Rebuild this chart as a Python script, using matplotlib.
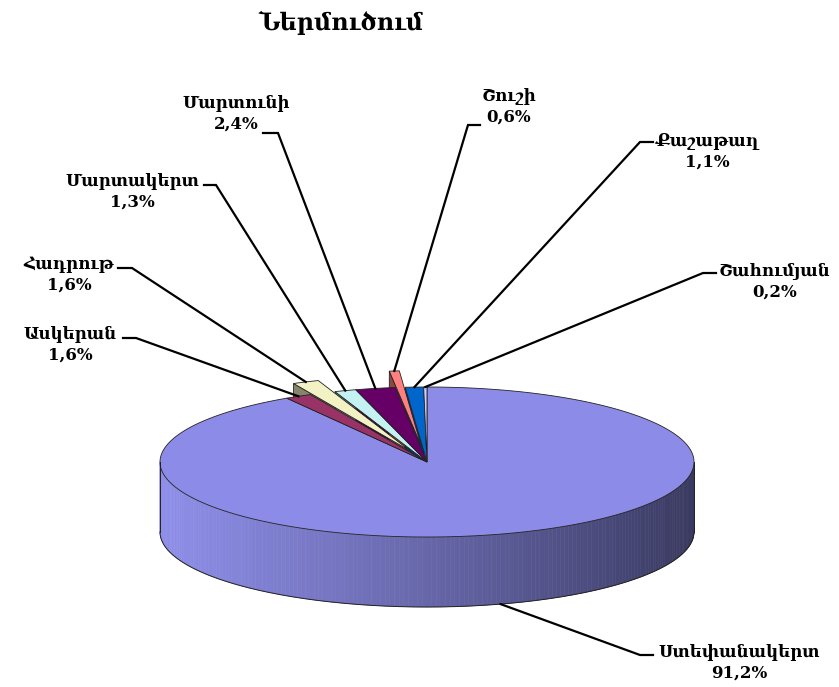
import numpy as np
import matplotlib
matplotlib.use('Agg')
import matplotlib.pyplot as plt
import matplotlib.colors as mcolors
from matplotlib.patches import Polygon

plt.rcParams['font.family'] = ['DejaVu Serif', 'DejaVu Sans']

# datos
regiones = ['Ստեփանակերտ', 'Ասկերան', 'Հադրութ', 'Մարտակերտ',
            'Մարտունի', 'Շուշի', 'Քաշաթաղ', 'Շահումյան']
porcentajes = [91.2, 1.6, 1.6, 1.3, 2.4, 0.6, 1.1, 0.2]
etiquetas_pct = ['91,2%', '1,6%', '1,6%', '1,3%', '2,4%', '0,6%', '1,1%', '0,2%']
colores = ['#8c8ce8', '#993366', '#f2f2c4', '#c4f2f2',
           '#660066', '#ff8080', '#0066cc', '#ccccff']
separacion = [0, 0, 0.16, 0, 0, 0.22, 0, 0]
titulo = 'Ներմուծում'

# geometria del pastel en pixeles
cx, cy, ra, rb, prof = 427, 462, 267, 75, 70

# posiciones de etiquetas: centro texto, inicio tramo, fin tramo, y del tramo
pos_etiquetas = [
    ((739, 663), (653, 640, 655)),
    ((70, 345), (123, 136, 338)),
    ((69, 275), (118, 132, 268)),
    ((132, 192), (204, 216, 185)),
    ((236, 114), (263, 278, 133)),
    ((509, 107), (480, 468, 125)),
    ((707, 152), (653, 640, 142)),
    ((775, 282), (716, 703, 273)),
]

fig = plt.figure(figsize=(8.39, 6.87), dpi=100)
ax = fig.add_axes([0, 0, 1, 1])
ax.set_xlim(0, 839)
ax.set_ylim(687, 0)
ax.axis('off')


def punto(t, off=(0, 0), baja=0):
    r = np.radians(t)
    return (cx + ra * np.cos(r) + off[0], cy - rb * np.sin(r) + off[1] + baja)


total = sum(porcentajes)
angulos = []
acum = 0
for p in porcentajes:
    t1 = 90 - acum / total * 360
    acum += p
    t2 = 90 - acum / total * 360
    angulos.append((t2, t1))

desplaz = []
for (t2, t1), e in zip(angulos, separacion):
    m = np.radians((t1 + t2) / 2)
    desplaz.append((e * ra * np.cos(m), -e * rb * np.sin(m)))

borde = dict(edgecolor='#222222', linewidth=0.6)

# caras radiales de los sectores pequenos
for i in range(1, len(porcentajes)):
    t2, t1 = angulos[i]
    off = desplaz[i]
    c0 = (cx + off[0], cy + off[1])
    oscuro = np.array(mcolors.to_rgb(colores[i])) * 0.55
    if np.cos(np.radians(t1)) < 0:
        p = punto(t1, off)
        ax.add_patch(Polygon([c0, p, (p[0], p[1] + prof), (c0[0], c0[1] + prof)],
                             closed=True, facecolor=oscuro, **borde))

# pared lateral del sector grande con degradado
t2, t1 = angulos[0]
claro = np.array([0.56, 0.56, 0.92])
sombra = np.array([0.22, 0.22, 0.37])
segs = np.linspace(-180, 0, 181)
for k in range(len(segs) - 1):
    pa, pb = punto(segs[k]), punto(segs[k + 1])
    f = ((pa[0] + pb[0]) / 2 - (cx - ra)) / (2 * ra)
    col = claro * (1 - f) ** 0.9 + sombra * (1 - (1 - f) ** 0.9)
    ax.add_patch(Polygon([pa, pb, (pb[0], pb[1] + prof), (pa[0], pa[1] + prof)],
                         closed=True, facecolor=col, edgecolor=col, linewidth=0.4))
arco = np.array([punto(t) for t in segs])
ax.plot(arco[:, 0], arco[:, 1] + prof, color='#222222', lw=0.7)
ax.plot([cx - ra, cx - ra], [cy, cy + prof], color='#222222', lw=0.7)
ax.plot([cx + ra, cx + ra], [cy, cy + prof], color='#222222', lw=0.7)

# caras superiores
for i in range(len(porcentajes)):
    t2, t1 = angulos[i]
    off = desplaz[i]
    ts = np.linspace(t2, t1, max(3, int(abs(t1 - t2) * 2)))
    pts = [(cx + off[0], cy + off[1])] + [punto(t, off) for t in ts]
    ax.add_patch(Polygon(pts, closed=True, facecolor=colores[i], **borde))

# etiquetas con lineas guia
for i, (nombre, pct) in enumerate(zip(regiones, etiquetas_pct)):
    (tx, ty), (xs, xe, ys) = pos_etiquetas[i]
    t2, t1 = angulos[i]
    m = (t1 + t2) / 2
    if i == 0:
        m = -74
        destino = punto(m, desplaz[i], prof)
    else:
        destino = punto(m, desplaz[i])
    ax.plot([xs, xe, destino[0]], [ys, ys, destino[1]], color='black', lw=1.6,
            solid_joinstyle='miter')
    ax.text(tx, ty, nombre + '\n' + pct, ha='center', va='center', fontsize=12,
            fontweight='bold', linespacing=1.3)

ax.text(341, 23, titulo, ha='center', va='center', fontsize=17, fontweight='bold')

fig.savefig('out.png', dpi=100)
